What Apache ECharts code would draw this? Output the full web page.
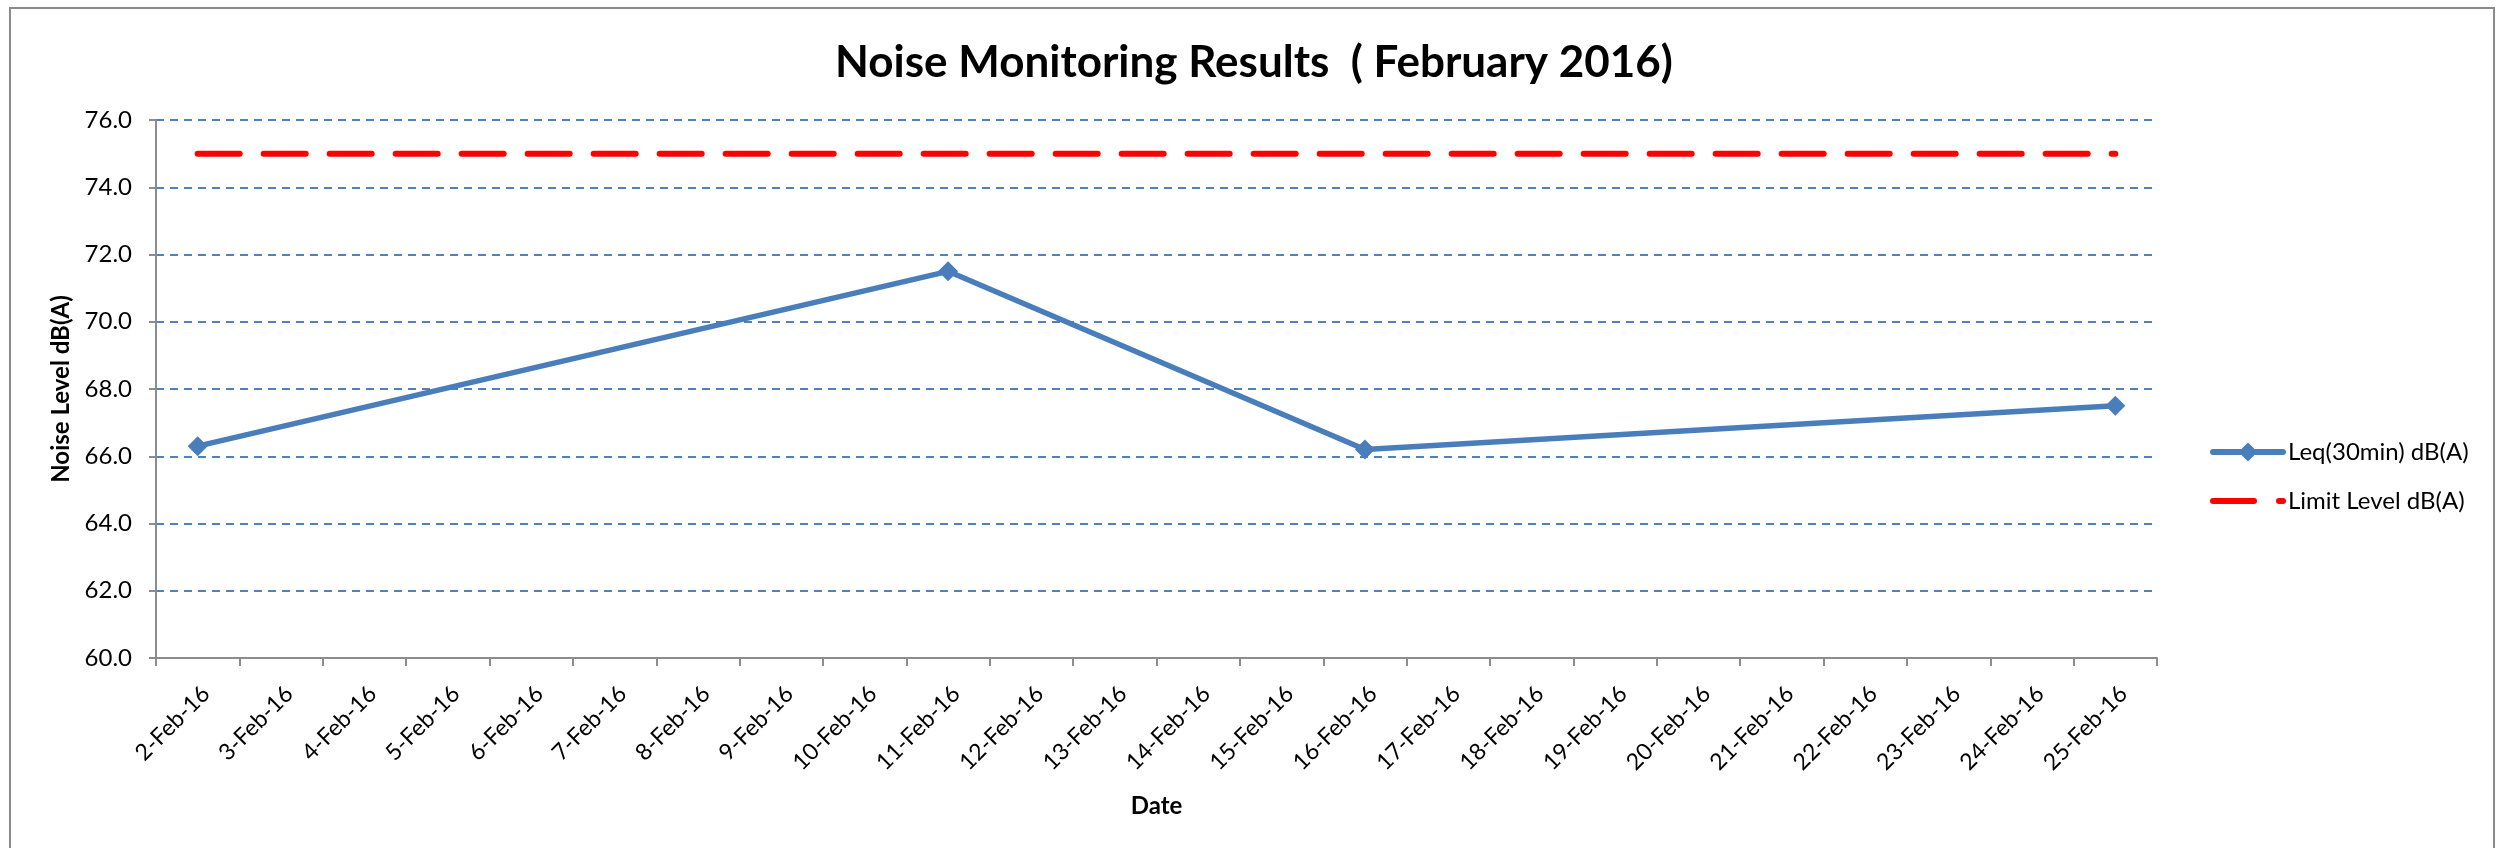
<!DOCTYPE html>
<html>
<head>
<meta charset="utf-8">
<title>Noise Monitoring Results (February 2016)</title>
<script src="https://cdn.jsdelivr.net/npm/echarts@6/dist/echarts.min.js"></script>
<style>
  html, body { margin: 0; padding: 0; background: #ffffff; }
  #chart { width: 2499px; height: 848px; }
</style>
</head>
<body>
<div id="chart"></div>
<script>
// Survey dates (one category per day)
const dates = [
  '2-Feb-16', '3-Feb-16', '4-Feb-16', '5-Feb-16', '6-Feb-16', '7-Feb-16',
  '8-Feb-16', '9-Feb-16', '10-Feb-16', '11-Feb-16', '12-Feb-16', '13-Feb-16',
  '14-Feb-16', '15-Feb-16', '16-Feb-16', '17-Feb-16', '18-Feb-16', '19-Feb-16',
  '20-Feb-16', '21-Feb-16', '22-Feb-16', '23-Feb-16', '24-Feb-16', '25-Feb-16'
];

// Measured Leq(30min) in dB(A); null on days with no measurement
const leqValues = [
  66.3, null, null, null, null, null,
  null, null, null, 71.5, null, null,
  null, null, 66.2, null, null, null,
  null, null, null, null, null, 67.5
];

// Daytime limit level in dB(A)
const limitValues = [
  75, 75, 75, 75, 75, 75,
  75, 75, 75, 75, 75, 75,
  75, 75, 75, 75, 75, 75,
  75, 75, 75, 75, 75, 75
];

// Value axis range and step
const yMin = 60;
const yMax = 76;
const yStep = 2;

const seriesNames = ['Leq(30min) dB(A)', 'Limit Level dB(A)'];

const FONT = 'Lato, "Open Sans", sans-serif';
const BLUE = '#4a7ebb';
const RED = '#ff0000';
const AXIS_GREY = '#8c8c8c';

const chart = echarts.init(document.getElementById('chart'), null, { renderer: 'canvas' });

chart.setOption({
  backgroundColor: '#ffffff',
  animation: false,
  textStyle: { fontFamily: FONT, color: '#000' },
  title: {
    text: 'Noise Monitoring Results  ( February 2016)',
    left: 1249,
    textAlign: 'center',
    top: 36,
    textStyle: { fontFamily: FONT, fontSize: 44, fontWeight: 'bold', color: '#000' }
  },
  graphic: [{
    type: 'rect',
    silent: true,
    shape: { x: 10, y: 8, width: 2484, height: 900 },
    style: { fill: 'none', stroke: '#8a8a8a', lineWidth: 2 }
  }],
  legend: {
    orient: 'vertical',
    left: 2205,
    top: 435,
    itemWidth: 70,
    itemHeight: 24,
    itemGap: 25,
    textStyle: { fontFamily: FONT, fontSize: 24, color: '#000' },
    data: [
      { name: seriesNames[0], lineStyle: { width: 6, color: BLUE, cap: 'round' } },
      {
        name: seriesNames[1],
        lineStyle: { type: [41, 25], width: 6, cap: 'round', color: RED },
        itemStyle: { opacity: 0 }
      }
    ]
  },
  grid: {
    left: 156,
    right: 342,
    top: 120,
    bottom: 190,
    containLabel: false,
    outerBoundsMode: 'none'
  },
  xAxis: {
    type: 'category',
    data: dates,
    boundaryGap: true,
    name: 'Date',
    nameLocation: 'middle',
    nameGap: 136,
    nameTextStyle: { fontFamily: FONT, fontSize: 24, fontWeight: 'bold', color: '#000' },
    axisLine: { show: true, lineStyle: { color: AXIS_GREY, width: 2 } },
    axisTick: { show: true, interval: 0, length: 8, lineStyle: { color: AXIS_GREY, width: 2 } },
    axisLabel: {
      interval: 0,
      rotate: 45,
      margin: 24,
      align: 'right',
      verticalAlign: 'top',
      fontFamily: FONT,
      fontSize: 23,
      color: '#000'
    },
    splitLine: { show: false }
  },
  yAxis: {
    type: 'value',
    min: yMin,
    max: yMax,
    interval: yStep,
    name: 'Noise Level dB(A)',
    nameLocation: 'middle',
    nameGap: 83,
    nameTextStyle: { fontFamily: FONT, fontSize: 24, fontWeight: 'bold', color: '#000' },
    axisLine: { show: true, lineStyle: { color: AXIS_GREY, width: 2 } },
    axisTick: { show: true, length: 7, lineStyle: { color: AXIS_GREY, width: 2 } },
    axisLabel: {
      margin: 24,
      fontFamily: FONT,
      fontSize: 24,
      color: '#000',
      formatter: v => v.toFixed(1)
    },
    splitLine: {
      show: true,
      lineStyle: { color: '#4f81bd', width: 2, type: [8, 6] }
    }
  },
  series: [
    {
      name: seriesNames[0],
      type: 'line',
      data: leqValues,
      connectNulls: true,
      symbol: 'diamond',
      symbolSize: 20,
      showSymbol: true,
      showAllSymbol: true,
      lineStyle: { color: BLUE, width: 5.5 },
      itemStyle: { color: BLUE },
      z: 3
    },
    {
      name: seriesNames[1],
      type: 'line',
      data: limitValues,
      symbol: 'none',
      lineStyle: { color: RED, width: 6, type: [42, 24], cap: 'round' },
      itemStyle: { color: RED },
      z: 2
    }
  ]
});
</script>
</body>
</html>
